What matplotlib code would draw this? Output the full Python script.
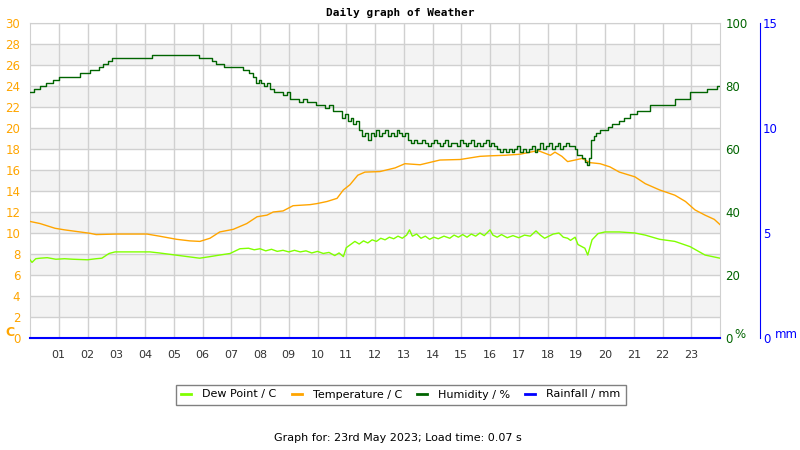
import matplotlib
matplotlib.use("Agg")
import matplotlib.pyplot as plt
from matplotlib.lines import Line2D

# Datos (horas del dia)
hum_t = [0, 0.14, 0.35, 0.56, 0.8, 1.0, 1.74, 2.09, 2.4, 2.54, 2.71, 2.85, 4.24, 5.88,
         6.32, 6.47, 6.75, 7.4, 7.6, 7.75, 7.85, 7.95, 8.05, 8.15, 8.25, 8.35, 8.5, 8.65,
         8.8, 8.95, 9.05, 9.2, 9.35, 9.5, 9.65, 9.8, 9.95, 10.1, 10.25, 10.4, 10.55, 10.7,
         10.85, 10.95, 11.05, 11.15, 11.25, 11.35, 11.45, 11.55, 11.65, 11.75, 11.85, 11.95,
         12.05, 12.15, 12.25, 12.35, 12.45, 12.55, 12.65, 12.75, 12.85, 12.95, 13.05, 13.15,
         13.25, 13.35, 13.45, 13.55, 13.65, 13.75, 13.85, 13.95, 14.05, 14.15, 14.25, 14.35,
         14.45, 14.55, 14.65, 14.75, 14.85, 14.95, 15.05, 15.15, 15.25, 15.35, 15.45, 15.55,
         15.65, 15.75, 15.85, 15.95, 16.05, 16.15, 16.25, 16.35, 16.45, 16.55, 16.65, 16.75,
         16.85, 16.95, 17.05, 17.15, 17.25, 17.35, 17.45, 17.55, 17.65, 17.75, 17.85, 17.95,
         18.05, 18.15, 18.25, 18.35, 18.45, 18.55, 18.65, 18.75, 18.85, 18.95, 19.03, 19.2,
         19.3, 19.38, 19.45, 19.51, 19.6, 19.7, 19.83, 20.1, 20.25, 20.5, 20.65, 20.87, 21.1,
         21.57, 22.43, 22.96, 23.55, 23.9, 24.0]
hum_v = [78, 79, 80, 81, 82, 83, 84, 85, 86, 87, 88, 89, 90, 89,
         88, 87, 86, 85, 84, 83, 81, 82, 81, 80, 81, 79, 78, 78,
         77, 78, 76, 76, 75, 76, 75, 75, 74, 74, 73, 74, 72, 72,
         70, 71, 69, 70, 68, 69, 66, 64, 65, 63, 65, 64,
         66, 64, 65, 66, 64, 65, 64, 66, 65, 64, 65, 63,
         62, 63, 62, 62, 63, 62, 61, 62, 63, 62, 61, 62,
         63, 61, 62, 62, 61, 63, 62, 61, 62, 63, 61, 62,
         61, 62, 63, 61, 62, 61, 60, 59, 60, 59, 60, 59,
         60, 61, 59, 60, 59, 60, 61, 59, 60, 62, 60, 61,
         62, 60, 61, 62, 60, 61, 62, 61, 61, 60, 58, 57,
         56, 55, 57, 63, 64, 65, 66, 67, 68, 69, 70, 71, 72,
         74, 76, 78, 79, 80, 80]

temp_t = [0, 0.35, 0.87, 1.2, 1.74, 2.09, 2.3, 3.0, 4.07, 4.5, 5.1, 5.56, 5.91, 6.26, 6.6,
          7.07, 7.54, 7.9, 8.24, 8.46, 8.8, 9.15, 9.74, 9.98, 10.33, 10.68, 10.9, 11.13, 11.4,
          11.65, 12.17, 12.7, 13.04, 13.57, 14.26, 14.96, 15.65, 16.0, 16.5, 17.04, 17.67,
          18.1, 18.26, 18.5, 18.7, 18.96, 19.2, 19.48, 19.83, 20.17, 20.5, 21.04, 21.4, 21.9,
          22.43, 22.8, 23.13, 23.48, 23.8, 24]
temp_v = [11.1, 10.9, 10.45, 10.3, 10.1, 9.97, 9.85, 9.9, 9.9, 9.7, 9.4, 9.25, 9.2, 9.5, 10.1,
          10.35, 10.9, 11.55, 11.7, 12.0, 12.1, 12.6, 12.7, 12.8, 13.0, 13.3, 14.1, 14.6, 15.5,
          15.8, 15.85, 16.2, 16.6, 16.5, 16.95, 17.0, 17.3, 17.35, 17.4, 17.5, 17.85,
          17.4, 17.7, 17.3, 16.8, 16.95, 17.1, 16.7, 16.6, 16.3, 15.8, 15.35, 14.7, 14.1,
          13.6, 13.0, 12.2, 11.7, 11.3, 10.8]

dew_t = [0, 0.07, 0.2, 0.35, 0.6, 0.9, 1.2, 1.5, 2.0, 2.3, 2.5, 2.75, 2.96, 4.17, 4.5, 5.2,
         5.9, 6.26, 6.6, 6.96, 7.3, 7.6, 7.8, 8.0, 8.2, 8.4, 8.6, 8.8, 9.0, 9.2, 9.4, 9.6,
         9.8, 10.0, 10.2, 10.4, 10.6, 10.75, 10.9, 11.0, 11.15, 11.3, 11.45, 11.6, 11.75,
         11.9, 12.05, 12.2, 12.35, 12.5, 12.65, 12.8, 12.95, 13.1, 13.2, 13.3, 13.45, 13.6,
         13.75, 13.9, 14.05, 14.2, 14.4, 14.6, 14.75, 14.9, 15.05, 15.2, 15.35, 15.5, 15.65,
         15.8, 16.0, 16.1, 16.25, 16.4, 16.6, 16.8, 17.0, 17.2, 17.4, 17.6, 17.75, 17.9,
         18.05, 18.2, 18.4, 18.55, 18.7, 18.8, 18.96, 19.06, 19.3, 19.4, 19.55, 19.76, 20.0,
         20.5, 21.04, 21.4, 21.9, 22.43, 22.96, 23.48, 24.0]
dew_v = [7.45, 7.2, 7.55, 7.6, 7.65, 7.5, 7.55, 7.5, 7.45, 7.55, 7.6, 8.05, 8.2, 8.2, 8.1, 7.85,
         7.6, 7.75, 7.9, 8.05, 8.5, 8.55, 8.4, 8.5, 8.3, 8.45, 8.25, 8.35, 8.2, 8.35, 8.2, 8.3,
         8.1, 8.25, 8.05, 8.15, 7.85, 8.1, 7.75, 8.6, 8.9, 9.2, 8.95, 9.25, 9.05,
         9.35, 9.2, 9.5, 9.35, 9.6, 9.45, 9.7, 9.5, 9.8, 10.3, 9.7, 9.9, 9.5,
         9.7, 9.4, 9.6, 9.45, 9.7, 9.5, 9.8, 9.6, 9.85, 9.6, 9.9, 9.7, 10.0,
         9.75, 10.3, 9.8, 9.6, 9.85, 9.55, 9.75, 9.55, 9.8, 9.7, 10.2, 9.8, 9.5,
         9.7, 9.9, 10.0, 9.6, 9.5, 9.3, 9.6, 8.9, 8.55, 7.9, 9.35, 9.95, 10.1,
         10.1, 10.0, 9.8, 9.4, 9.2, 8.7, 7.9, 7.6]

rain_t = [0, 24]
rain_v = [0, 0]

horas = list(range(1, 24))
etiquetas_horas = [f"{h:02d}" for h in horas]

NARANJA = "#FFA500"
VERDE = "#006400"
VERDE_CLARO = "#80FF00"
AZUL = "#0000FF"
GRIS = "#d0d0d0"

fig = plt.figure(figsize=(8, 4.5), dpi=100)
ax = fig.add_axes([30 / 800, 1 - 338 / 450, 690 / 800, 315 / 450])

# Bandas grises alternas
for y0 in range(2, 30, 4):
    ax.axhspan(y0, y0 + 2, color="#f3f3f3", zorder=0, lw=0)

ax.set_xlim(0, 24)
ax.set_ylim(0, 30)
ax.set_xticks(horas)
ax.set_xticklabels(etiquetas_horas)
ax.set_yticks(range(0, 31, 2))
ax.grid(True, color=GRIS, lw=1, zorder=0.5)
ax.set_axisbelow(True)
ax.tick_params(axis="x", length=0, pad=9, labelsize=8, colors="#333333")
ax.tick_params(axis="y", length=0, pad=7, labelsize=8.5, colors=NARANJA)
for s in ax.spines.values():
    s.set_color(GRIS)

ax.plot(dew_t, dew_v, color=VERDE_CLARO, lw=1, zorder=3)
ax.plot(temp_t, temp_v, color=NARANJA, lw=1, zorder=3)

# Eje de humedad
ax2 = ax.twinx()
ax2.set_ylim(0, 100)
ax2.set_yticks(range(0, 101, 20))
ax2.tick_params(axis="y", length=0, pad=4, labelsize=8.5, colors=VERDE)
for s in ax2.spines.values():
    s.set_visible(False)
ax2.plot(hum_t, hum_v, color=VERDE, lw=1, drawstyle="steps-post", zorder=3)

# Eje de lluvia
ax3 = ax.twinx()
ax3.set_ylim(0, 15)
ax3.set_yticks([0, 5, 10, 15])
ax3.spines["right"].set_position(("axes", (760 - 30) / 690))
for nombre, s in ax3.spines.items():
    s.set_visible(nombre == "right")
ax3.spines["right"].set_color(AZUL)
ax3.tick_params(axis="y", length=0, pad=2, labelsize=8.5, colors=AZUL)
ax3.plot(rain_t, rain_v, color=AZUL, lw=1.5, clip_on=False, zorder=4)

# Unidades
fig.text(5 / 800, 1 - 333 / 450, "C", color=NARANJA, fontsize=9, fontweight="bold",
         va="center", ha="left")
fig.text(734 / 800, 1 - 334 / 450, "%", color=VERDE, fontsize=8.5, va="center", ha="left")
fig.text(775 / 800, 1 - 334 / 450, "mm", color=AZUL, fontsize=8.5, va="center", ha="left")

fig.text(0.5, 1 - 13 / 450, "Daily graph of Weather", family="DejaVu Sans Mono",
         fontweight="bold", fontsize=8, ha="center", va="center")

manejadores = [Line2D([], [], color=VERDE_CLARO, lw=2),
               Line2D([], [], color=NARANJA, lw=2),
               Line2D([], [], color=VERDE, lw=2),
               Line2D([], [], color=AZUL, lw=2)]
nombres = ["Dew Point / C", "Temperature / C", "Humidity / %", "Rainfall / mm"]
leg = fig.legend(manejadores, nombres, loc="center", bbox_to_anchor=(401 / 800, 1 - 394.5 / 450),
                 ncol=4, fontsize=8, handlelength=0.9, columnspacing=1.35, handletextpad=1.0,
                 fancybox=False, framealpha=1, borderpad=0.45)
leg.get_frame().set_edgecolor("#808080")
leg.get_frame().set_linewidth(1)

fig.text(398 / 800, 1 - 438 / 450, "Graph for: 23rd May 2023; Load time: 0.07 s",
         fontsize=8, ha="center", va="center")

fig.savefig("out.png", dpi=100)
